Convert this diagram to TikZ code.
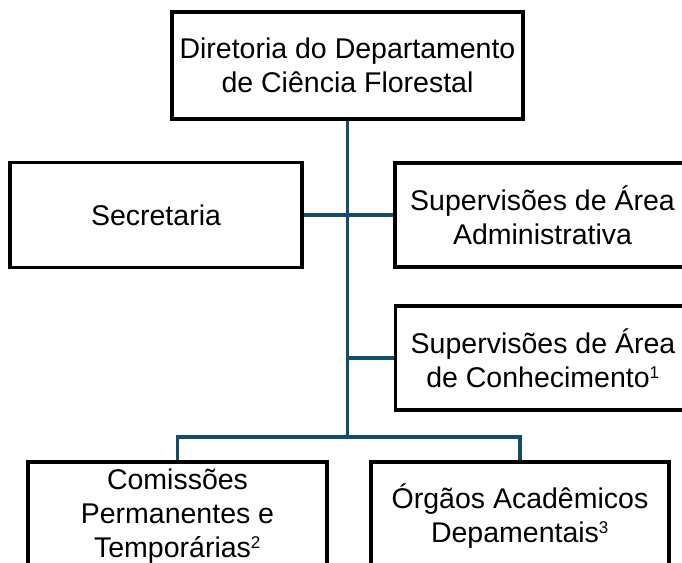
\documentclass[tikz,border=0pt]{standalone}
\usepackage{fontspec}
\setmainfont{Liberation Sans}
\definecolor{linkblue}{HTML}{124E6B}
\newcommand{\supnote}[1]{\textsuperscript{\fontsize{17}{17}\selectfont #1}}
\begin{document}
\begin{tikzpicture}[x=1pt,y=1pt,
  box/.style={draw=black,line width=3.5pt,rectangle,fill=white,align=center,
    inner sep=0pt,font=\fontsize{28.5}{34}\selectfont},
  link/.style={draw=linkblue,line width=3.2pt}]
\useasboundingbox (0,0) rectangle (682,-562);
\clip (0,0) rectangle (682,-562);
\coordinate (bus) at (347.5,-437);
\node[box,minimum width=351pt,minimum height=107pt] (top) at (347.5,-65.5) {Diretoria do Departamento\\de Ciência Florestal};
\node[box,minimum width=292pt,minimum height=105pt] (sec) at (156,-215) {Secretaria};
\node[box,minimum width=295pt,minimum height=104pt] (adm) at (542.5,-215) {Supervisões de Área\\Administrativa};
\node[box,minimum width=295pt,minimum height=104pt] (con) at (543,-358) {Supervisões de Área\\de Conhecimento\supnote{1}};
\node[box,minimum width=299pt,minimum height=108pt] (com) at (177.5,-516) {Comissões\\Permanentes e\\Temporárias\supnote{2}};
\node[box,minimum width=298pt,minimum height=108pt] (org) at (520,-516) {Órgãos Acadêmicos\\Depamentais\supnote{3}};
\draw[link] (top.south) -- (bus);
\draw[link] (sec.east) -- (adm.west);
\draw[link] (con.west) -- (con.west -| bus);
\draw[link] (com.north) |- (bus) -| (org.north);
\end{tikzpicture}
\end{document}
